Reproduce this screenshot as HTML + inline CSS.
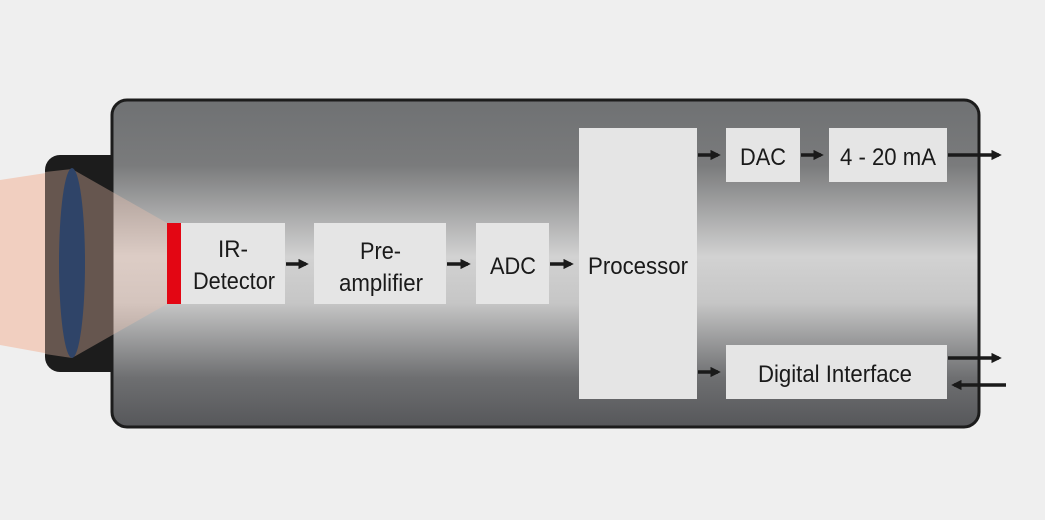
<!DOCTYPE html>
<html><head><meta charset="utf-8"><style>
html,body{margin:0;padding:0;background:#efefef;}
svg{display:block;}
text{font-family:"Liberation Sans",sans-serif;font-size:24px;fill:#1a1a1a;}
</style></head><body>
<svg width="1045" height="520" viewBox="0 0 1045 520" xmlns="http://www.w3.org/2000/svg">
<defs>
<linearGradient id="g" x1="0" y1="0" x2="0" y2="1">
<stop offset="0" stop-color="#6f7173"/>
<stop offset="0.2" stop-color="#7a7b7c"/>
<stop offset="0.48" stop-color="#d2d2d2"/>
<stop offset="0.62" stop-color="#c6c6c6"/>
<stop offset="0.85" stop-color="#6e6f71"/>
<stop offset="1" stop-color="#56575a"/>
</linearGradient>
<marker id="a" markerWidth="3" markerHeight="3" refX="2.2" refY="1.5" orient="auto" markerUnits="strokeWidth">
<path d="M0,0 L3,1.5 L0,3 z" fill="#1a1a1a"/>
</marker>
</defs>
<rect width="1045" height="520" fill="#efefef"/>
<polygon points="0,180 72,169 72,358 0,345" fill="#f1cfc0"/>
<rect x="45" y="155" width="80" height="217" rx="15" fill="#1c1c1c"/>
<rect x="112" y="100" width="867" height="327" rx="15" fill="url(#g)" stroke="#1c1c1c" stroke-width="3"/>
<polygon points="45,172 72,169 167,223 167,304 72,358 45,354" fill="#f2c4b0" opacity="0.35"/>
<ellipse cx="72" cy="263" rx="13" ry="95" fill="#2f4468"/>
<g fill="#e5e5e5">
<rect x="181" y="223" width="104" height="81"/>
<rect x="314" y="223" width="132" height="81"/>
<rect x="476" y="223" width="73" height="81"/>
<rect x="579" y="128" width="118" height="271"/>
<rect x="726" y="128" width="74" height="54"/>
<rect x="829" y="128" width="118" height="54"/>
<rect x="726" y="345" width="221" height="54"/>
</g>
<rect x="167" y="223" width="14" height="81" fill="#e30613"/>
<g stroke="#1a1a1a" stroke-width="3.5" marker-end="url(#a)">
<line x1="286" y1="264" x2="306" y2="264"/>
<line x1="447" y1="264" x2="468" y2="264"/>
<line x1="550" y1="264" x2="571" y2="264"/>
<line x1="698" y1="155" x2="718" y2="155"/>
<line x1="801" y1="155" x2="821" y2="155"/>
<line x1="948" y1="155" x2="999" y2="155"/>
<line x1="698" y1="372" x2="718" y2="372"/>
<line x1="948" y1="358" x2="999" y2="358"/>
<line x1="1006" y1="385" x2="954" y2="385"/>
</g>
<g lengthAdjust="spacingAndGlyphs">
<text x="218" y="257" textLength="30" lengthAdjust="spacingAndGlyphs">IR-</text>
<text x="193" y="289" textLength="82" lengthAdjust="spacingAndGlyphs">Detector</text>
<text x="360" y="259" textLength="41" lengthAdjust="spacingAndGlyphs">Pre-</text>
<text x="339" y="291" textLength="84" lengthAdjust="spacingAndGlyphs">amplifier</text>
<text x="490" y="274" textLength="46" lengthAdjust="spacingAndGlyphs">ADC</text>
<text x="588" y="274" textLength="100" lengthAdjust="spacingAndGlyphs">Processor</text>
<text x="740" y="165" textLength="46" lengthAdjust="spacingAndGlyphs">DAC</text>
<text x="840" y="165" textLength="96" lengthAdjust="spacingAndGlyphs">4 - 20 mA</text>
<text x="758" y="382" textLength="154" lengthAdjust="spacingAndGlyphs">Digital Interface</text>
</g>
</svg>
</body></html>
